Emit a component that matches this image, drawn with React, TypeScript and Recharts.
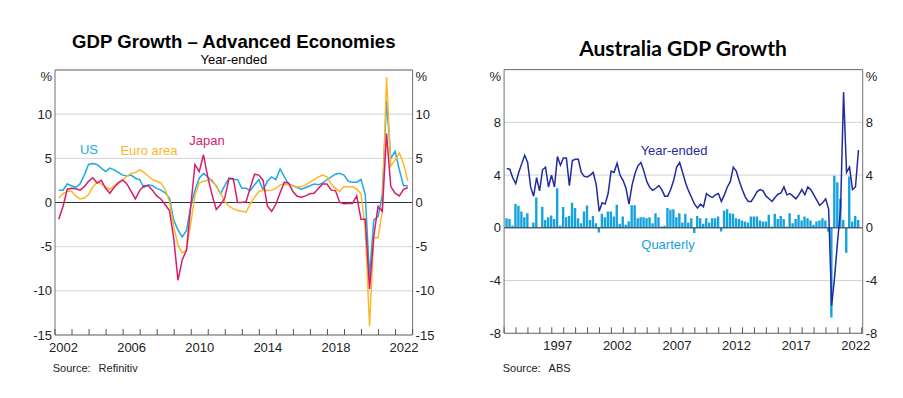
import { ComposedChart, LineChart, Line, Bar, XAxis, YAxis, CartesianGrid, ReferenceLine } from 'recharts';

const FONT = '"Liberation Sans", Arial, Helvetica, sans-serif';

// Year-ended GDP growth, quarterly, 2002Q1 - 2022Q3
const advStart = 2002.22;
const usGrowth = [
  1.4, 1.4, 2.1, 1.9, 1.7, 2.1, 3.1, 4.3, 4.4, 4.3, 3.9, 3.5, 3.9, 3.7, 3.4, 3.1, 3.0, 3.1, 2.75, 2.6,
  1.7, 2.0, 1.9, 1.6, 1.4, 1.1, 0.5, -2.0, -3.1, -3.9, -3.2, -0.45, 1.4, 2.75, 3.3, 2.9, 2.4, 1.9, 1.0, 1.9,
  2.75, 2.6, 2.6, 1.6, 1.6, 1.35, 2.0, 2.6, 1.4, 2.4, 2.9, 2.6, 3.8, 2.9, 2.1, 1.9, 1.7, 1.5, 1.7, 1.9,
  2.1, 2.0, 2.2, 2.6, 2.9, 3.2, 3.3, 3.1, 2.4, 2.3, 2.3, 2.6, 0.9, -8.4, -2.0, -1.6, 0.9, 11.5, 5.0, 5.8,
  3.7, 1.9, 1.9,
];
const euroGrowth = [
  0.5, 1.0, 1.3, 1.25, 0.75, 0.4, 0.5, 0.9, 1.75, 2.3, 2.1, 1.75, 1.5, 1.9, 2.3, 2.5, 3.0, 3.3, 3.4, 3.7,
  3.4, 3.0, 2.6, 2.4, 2.2, 1.5, 0.1, -2.7, -4.8, -5.7, -5.4, -2.4, 0.8, 2.2, 2.4, 2.5, 2.6, 1.8, 1.05, 0.1,
  -0.45, -0.7, -0.9, -1.0, -1.1, -0.15, 0.6, 1.25, 1.4, 1.35, 1.4, 1.6, 2.0, 2.1, 2.0, 1.9, 1.75, 1.8, 2.0, 2.3,
  2.6, 2.9, 3.1, 2.9, 2.1, 1.6, 1.25, 1.8, 1.75, 1.8, 1.5, 1.0, -3.0, -14.0, -4.0, -4.0, -1.0, 14.2, 4.1, 4.8,
  5.6, 4.4, 2.4,
];
const japanGrowth = [
  -1.9, -0.45, 1.5, 1.6, 1.55, 1.4, 1.8, 2.4, 2.8, 2.2, 2.5, 1.6, 1.05, 1.7, 2.2, 2.55, 2.1, 1.25, 0.4, 1.35,
  1.9, 1.9, 1.4, 0.75, 0.4, -0.25, -0.9, -4.0, -8.8, -6.5, -5.4, -0.45, 4.3, 3.5, 5.4, 2.9, 0.9, -0.8, -0.25, 0.5,
  2.75, 2.7, 0.0, 0.0, 0.1, 1.7, 3.2, 3.1, 2.5, -0.4, -1.0, -0.2, 1.1, 2.3, 2.2, 1.25, 0.7, 0.6, 0.75, 1.0,
  1.05, 1.6, 2.1, 2.1, 1.4, 1.35, 0.0, -0.15, -0.1, -0.1, 0.75, -1.9, -1.9, -9.8, -3.85, -0.45, -1.0, 7.8, 1.8, 1.05,
  0.75, 1.5, 1.7,
];
const advYears = [2002, 2003, 2004, 2005, 2006, 2007, 2008, 2009, 2010, 2011, 2012, 2013, 2014, 2015, 2016, 2017, 2018, 2019, 2020, 2021, 2022, 2023];
const advLabels = [2002, 2006, 2010, 2014, 2018, 2022];
const advYTicks = [-15, -10, -5, 0, 5, 10, 15];

// Australia, 1993Q1 - 2022Q3
const ausStart = 1993.225;
const ausYearEnded = [
  4.5, 4.45, 3.8, 3.35, 4.2, 4.85, 5.5, 4.95, 3.1, 2.4, 3.8, 2.8, 4.4, 4.6, 3.1, 4.0, 3.1, 5.4, 4.75, 5.3,
  5.3, 3.2, 5.1, 5.2, 5.2, 4.2, 3.9, 3.85, 4.0, 4.2, 3.3, 1.25, 1.9, 1.8, 2.6, 4.3, 4.2, 4.9, 4.0, 3.6,
  3.0, 1.8, 3.2, 4.1, 4.7, 4.95, 4.3, 3.5, 3.05, 2.85, 3.0, 3.2, 2.9, 2.4, 2.4, 2.9, 3.6, 4.6, 4.95, 4.2,
  3.4, 2.8, 2.3, 1.8, 1.5, 1.8, 1.6, 2.6, 2.4, 2.3, 2.5, 2.6, 2.0, 2.5, 3.1, 3.5, 4.6, 4.3, 3.55, 2.9,
  2.35, 2.0, 2.0, 2.35, 2.75, 2.9, 2.8, 2.4, 2.2, 2.0, 2.3, 2.55, 2.65, 3.1, 2.5, 2.6, 2.4, 2.2, 2.5, 2.9,
  2.5, 3.1, 2.9, 2.5, 2.1, 1.7, 1.9, 2.2, 1.4, -5.9, -3.7, -1.0, 1.4, 10.3, 4.2, 4.6, 2.9, 3.1, 5.9,
];
const ausQuarterly = [
  0.73, 0.66, 0.15, 1.8, 1.67, 1.24, 0.8, 1.1, 0.05, 0.4, 2.3, 0.05, 1.6, 0.6, 0.8, 0.94, 0.66, 3.0, 0.15, 1.57,
  0.8, 0.9, 1.9, 1.5, 0.73, 0.35, 1.24, 1.7, 0.6, 0.9, 0.35, -0.35, 1.06, 0.8, 1.24, 1.24, 0.86, 1.75, 0.3, 0.86,
  0.23, 0.5, 1.72, 1.72, 0.73, 0.8, 0.8, 0.73, 0.8, 0.35, 1.1, 0.8, 0.1, 0.15, 1.5, 1.37, 1.4, 0.8, 1.1, 0.4,
  1.06, 0.4, 0.73, -0.4, 0.9, 0.73, 0.3, 0.73, 0.4, 0.73, 0.73, 0.86, -0.28, 1.3, 1.4, 1.1, 1.06, 0.73, 0.66, 0.55,
  0.48, 0.4, 0.86, 0.86, 0.86, 0.55, 0.48, 0.48, 1.0, 0.1, 1.06, 0.66, 0.9, 0.66, 0.1, 1.1, 0.35, 0.66, 1.0, 0.55,
  0.86, 0.73, 0.55, 0.23, 0.48, 0.55, 0.73, 0.55, -0.3, -6.8, 3.95, 3.45, 2.2, 0.6, -1.9, 3.9, 0.48, 0.9, 0.6,
];
const ausYears = [
  1993, 1994, 1995, 1996, 1997, 1998, 1999, 2000, 2001, 2002, 2003, 2004, 2005, 2006, 2007, 2008,
  2009, 2010, 2011, 2012, 2013, 2014, 2015, 2016, 2017, 2018, 2019, 2020, 2021, 2022, 2023,
];
const ausLabels = [1997, 2002, 2007, 2012, 2017, 2022];
const ausYTicks = [-8, -4, 0, 4, 8, 12];

const advData = usGrowth.map((v, i) => ({
  t: advStart + i * 0.25,
  us: v,
  euro: euroGrowth[i],
  japan: japanGrowth[i],
}));

const ausData = ausYearEnded.map((v, i) => ({
  t: ausStart + i * 0.25,
  yearEnded: v,
  quarterly: ausQuarterly[i],
}));

const FRAME = '#707070';
const GRID = '#d2d2d2';

const PctTick = (props: any) => {
  const { x, y, payload, textAnchor, top } = props;
  const isTop = payload.value === top;
  return (
    <text x={x} y={y} dy={isTop ? 11 : 4.6} textAnchor={textAnchor} fontSize={13} fontFamily={FONT} fill="#222">
      {isTop ? '%' : payload.value}
    </text>
  );
};

const YearTick = (props: any) => {
  const { x, y, payload, labels, half } = props;
  const yr = payload.value;
  return (
    <g>
      <line x1={x} x2={x} y1={y} y2={y - 6} stroke="#555" />
      {labels.includes(yr) && (
        <text x={x + half} y={y + 17} textAnchor="middle" fontSize={13} fontFamily={FONT} fill="#222">
          {yr}
        </text>
      )}
    </g>
  );
};

const Note = ({ x, y, color, size = 13, bold = false, children }: any) => (
  <div
    style={{
      position: 'absolute',
      left: x,
      top: y,
      transform: 'translate(-50%, -50%)',
      whiteSpace: 'nowrap',
      color,
      fontSize: size,
      fontWeight: bold ? 700 : 400,
      fontFamily: FONT,
      lineHeight: 1,
    }}
  >
    {children}
  </div>
);

const Source = ({ x, y, name }: any) => (
  <div style={{ position: 'absolute', left: x, top: y, fontSize: 11, fontFamily: FONT, color: '#222', whiteSpace: 'nowrap' }}>
    Source:<span style={{ marginLeft: 8 }}>{name}</span>
  </div>
);

const AdvancedChart = () => {
  const margin = { top: 70, right: 17.4, bottom: 33, left: 25 };
  const plotW = 460 - margin.left - margin.right - 60;
  const span = 2023 - 2002;
  return (
    <LineChart width={460} height={398} data={advData} margin={margin}>
      <CartesianGrid xAxisId="x" yAxisId="l" vertical={false} stroke={GRID} />
      <XAxis
        xAxisId="x"
        dataKey="t"
        type="number"
        domain={[2002, 2023]}
        allowDataOverflow
        ticks={advYears}
        interval={0}
        tickSize={0}
        tickMargin={0}
        tickLine={false}
        height={30}
        axisLine={{ stroke: FRAME }}
        tick={<YearTick labels={advLabels} half={plotW / span / 2} />}
      />
      <YAxis
        yAxisId="l"
        type="number"
        domain={[-15, 15]}
        allowDataOverflow
        ticks={advYTicks}
        interval={0}
        width={30}
        tickSize={0}
        tickMargin={3}
        tickLine={false}
        axisLine={{ stroke: FRAME }}
        tick={<PctTick top={15} />}
      />
      <YAxis
        yAxisId="r"
        orientation="right"
        type="number"
        domain={[-15, 15]}
        allowDataOverflow
        ticks={advYTicks}
        interval={0}
        width={30}
        tickSize={0}
        tickMargin={3}
        tickLine={false}
        axisLine={{ stroke: FRAME }}
        tick={<PctTick top={15} />}
      />
      <ReferenceLine xAxisId="x" yAxisId="l" y={15} stroke={FRAME} />
      <ReferenceLine xAxisId="x" yAxisId="l" y={0} stroke="#333" />
      <Line xAxisId="x" yAxisId="l" dataKey="us" stroke="#1ea9e1" strokeWidth={1.5} dot={false} isAnimationActive={false} />
      <Line xAxisId="x" yAxisId="l" dataKey="euro" stroke="#fdb72c" strokeWidth={1.5} dot={false} isAnimationActive={false} />
      <Line xAxisId="x" yAxisId="l" dataKey="japan" stroke="#d81b6e" strokeWidth={1.5} dot={false} isAnimationActive={false} />
    </LineChart>
  );
};

const AustraliaChart = () => {
  const margin = { top: 69.6, right: 10.3, bottom: 34.7, left: 14.1 };
  const plotW = 443 - margin.left - margin.right - 60;
  const span = 2023.08 - 1993;
  return (
    <ComposedChart width={443} height={398} data={ausData} margin={margin}>
      <CartesianGrid xAxisId="x" yAxisId="l" vertical={false} stroke={GRID} />
      <XAxis
        xAxisId="x"
        dataKey="t"
        type="number"
        domain={[1993, 2023.08]}
        allowDataOverflow
        ticks={ausYears}
        interval={0}
        tickSize={0}
        tickMargin={0}
        tickLine={false}
        height={30}
        axisLine={{ stroke: FRAME }}
        tick={<YearTick labels={ausLabels} half={plotW / span / 2} />}
      />
      <YAxis
        yAxisId="l"
        type="number"
        domain={[-8, 12]}
        allowDataOverflow
        ticks={ausYTicks}
        interval={0}
        width={30}
        tickSize={0}
        tickMargin={3}
        tickLine={false}
        axisLine={{ stroke: FRAME }}
        tick={<PctTick top={12} />}
      />
      <YAxis
        yAxisId="r"
        orientation="right"
        type="number"
        domain={[-8, 12]}
        allowDataOverflow
        ticks={ausYTicks}
        interval={0}
        width={30}
        tickSize={0}
        tickMargin={3}
        tickLine={false}
        axisLine={{ stroke: FRAME }}
        tick={<PctTick top={12} />}
      />
      <ReferenceLine xAxisId="x" yAxisId="l" y={12} stroke={FRAME} />
      <Bar xAxisId="x" yAxisId="l" dataKey="quarterly" fill="#14a3df" barSize={2.4} isAnimationActive={false} />
      <ReferenceLine xAxisId="x" yAxisId="l" y={0} stroke="#333" />
      <Line xAxisId="x" yAxisId="l" dataKey="yearEnded" stroke="#1f2b9f" strokeWidth={1.5} dot={false} isAnimationActive={false} />
    </ComposedChart>
  );
};

export default function App() {
  return (
    <div style={{ position: 'absolute', left: 0, top: 0, width: 903, height: 398, background: '#fff', overflow: 'hidden' }}>
      <div style={{ position: 'absolute', left: 0, top: 0 }}>
        <AdvancedChart />
      </div>
      <div style={{ position: 'absolute', left: 460, top: 0 }}>
        <AustraliaChart />
      </div>

      <Note x={233.8} y={42} size={18.6} bold color="#000">GDP Growth – Advanced Economies</Note>
      <Note x={233.8} y={59} color="#000">Year-ended</Note>
      <Note x={89} y={149} color="#1ea9e1">US</Note>
      <Note x={149} y={150} color="#fdb72c">Euro area</Note>
      <Note x={207} y={140} color="#d81b6e">Japan</Note>
      <Source x={52.7} y={362} name="Refinitiv" />

      <div
        style={{
          position: 'absolute',
          left: 683,
          top: 47,
          transform: 'translate(-50%, -50%)',
          whiteSpace: 'nowrap',
          fontFamily: 'Lato, "Liberation Sans", sans-serif',
          fontWeight: 700,
          fontSize: 21,
          color: '#000',
          lineHeight: 1,
        }}
      >
        Australia GDP Growth
      </div>
      <Note x={674} y={150} color="#1f2b9f">Year-ended</Note>
      <Note x={668} y={244} color="#14a3df">Quarterly</Note>
      <Source x={502.7} y={362} name="ABS" />
    </div>
  );
}
